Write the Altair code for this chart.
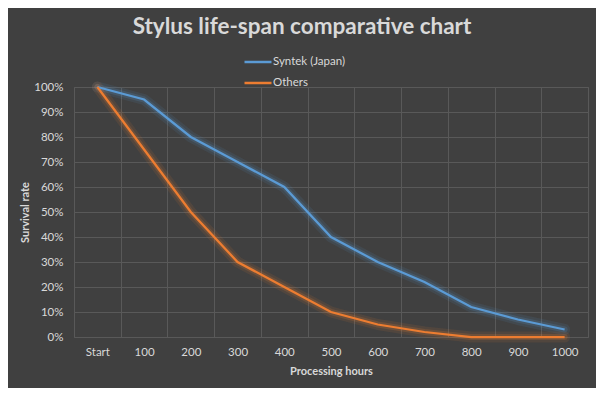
import altair as alt
import pandas as pd

hours = ["Start", "100", "200", "300", "400", "500", "600", "700", "800", "900", "1000"]
syntek = [1.00, 0.95, 0.80, 0.70, 0.60, 0.40, 0.30, 0.22, 0.12, 0.07, 0.03]
others = [1.00, 0.75, 0.50, 0.30, 0.20, 0.10, 0.05, 0.02, 0.00, 0.00, 0.00]
series = ["Syntek (Japan)", "Others"]
colors = ["#5b9bd5", "#ed7d31"]

rows = []
for h, s, o in zip(hours, syntek, others):
    rows.append({"hours": h, "series": series[0], "rate": s})
    rows.append({"hours": h, "series": series[1], "rate": o})
df = pd.DataFrame(rows)

W, H = 514, 250
FONT = "Lato"
TXT = "#d9d9d9"
GRID = "#595959"

x_enc = alt.X(
    "hours:N", sort=hours,
    scale=alt.Scale(type="band", paddingInner=0, paddingOuter=0),
    bandPosition=0.5,
    axis=alt.Axis(
        title="Processing hours", tickBand="extent",
        grid=True, gridColor=GRID, gridWidth=1, domain=False, ticks=False,
        labelAngle=0, labelPadding=9, titlePadding=8,
    ),
)
y_enc = alt.Y(
    "rate:Q", scale=alt.Scale(domain=[0, 1], nice=False),
    axis=alt.Axis(
        title="Survival rate", format="%", values=[i / 10 for i in range(11)],
        grid=True, gridColor=GRID, domain=False, ticks=False,
        labelPadding=11, titlePadding=3,
    ),
)
color_scale = alt.Scale(domain=series, range=colors)

base = alt.Chart(df)
glow1 = base.mark_line(strokeWidth=11, opacity=0.10, strokeJoin="round", strokeCap="round").encode(
    x=x_enc, y=y_enc, stroke=alt.Stroke("series:N", scale=color_scale, legend=None), detail="series:N")
glow2 = base.mark_line(strokeWidth=6, opacity=0.18, strokeJoin="round", strokeCap="round").encode(
    x=x_enc, y=y_enc, stroke=alt.Stroke("series:N", scale=color_scale, legend=None), detail="series:N")
main = base.mark_line(strokeWidth=2.25).encode(
    x=x_enc, y=y_enc,
    color=alt.Color(
        "series:N", scale=color_scale, sort=series,
        legend=alt.Legend(
            title=None, orient="none", legendX=169, legendY=-40, direction="vertical",
            symbolType="stroke", symbolSize=729, symbolStrokeWidth=2.5,
            labelColor=TXT, labelFont=FONT, labelFontSize=11.5, rowPadding=-7, labelOffset=0,
        ),
    ),
)

chart = alt.layer(glow1, glow2, main).resolve_scale(stroke="independent").properties(
    width=W, height=H,
    title=alt.TitleParams(
        "Stylus life-span comparative chart", anchor="middle", dx=-29,
        fontSize=22.5, font=FONT, fontWeight="bold", color=TXT, offset=9,
    ),
    autosize=alt.AutoSizeParams(type="none"),
    padding={"left": 66, "top": 79, "right": 8, "bottom": 51},
    background="#404040",
).configure_view(
    stroke=GRID, strokeWidth=1,
).configure_axis(
    labelColor=TXT, labelFont=FONT, labelFontSize=11.5,
    titleColor=TXT, titleFont=FONT, titleFontSize=11, titleFontWeight="bold",
)

chart.save("out.html", embed_options={"renderer": "svg", "actions": False})
